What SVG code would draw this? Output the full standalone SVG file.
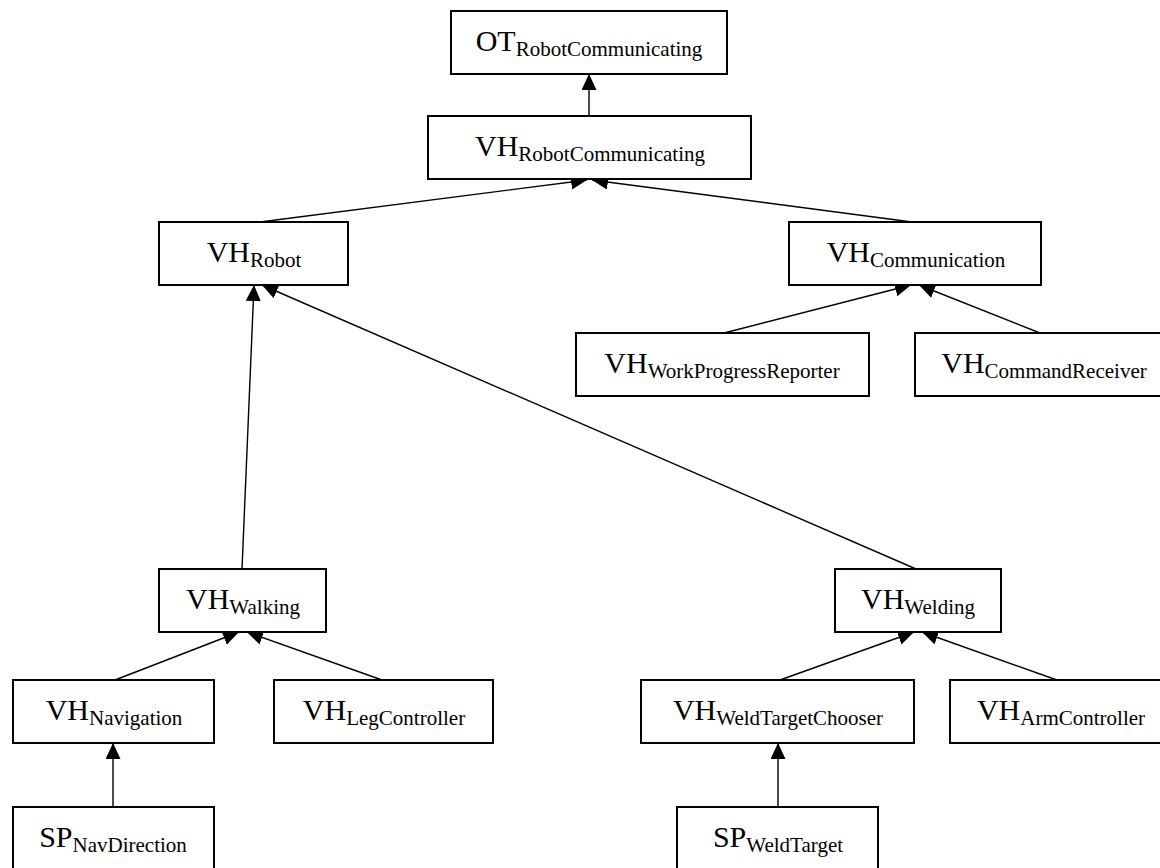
<svg xmlns="http://www.w3.org/2000/svg" width="1160" height="868" viewBox="0 0 1160 868">
<style>
.box{fill:#fff;stroke:#000;stroke-width:2}
.lbl{font-family:"Liberation Serif","Times New Roman",serif;font-size:30px;fill:#000;text-anchor:middle}
.sub{font-size:21px}
.edge{stroke:#000;stroke-width:1.4;fill:none;marker-end:url(#ah)}
</style>
<defs>
<marker id="ah" markerUnits="userSpaceOnUse" markerWidth="17" markerHeight="16" refX="16" refY="7.5" orient="auto">
<path d="M0,0 L16,7.5 L0,15 z" fill="#000"/>
</marker>
</defs>
<rect width="1160" height="868" fill="#fff"/>
<g id="connectors">
<line class="edge" x1="589" y1="116" x2="589" y2="74"/>
<line class="edge" x1="260" y1="222" x2="587" y2="180"/>
<line class="edge" x1="912" y1="222" x2="592" y2="180"/>
<line class="edge" x1="242" y1="569" x2="254" y2="285"/>
<line class="edge" x1="916" y1="569" x2="262" y2="285"/>
<line class="edge" x1="724" y1="333" x2="911" y2="285"/>
<line class="edge" x1="1040" y1="333" x2="919" y2="285"/>
<line class="edge" x1="115" y1="680" x2="239" y2="632"/>
<line class="edge" x1="382" y1="680" x2="247" y2="632"/>
<line class="edge" x1="113" y1="807" x2="113" y2="743"/>
<line class="edge" x1="780" y1="680" x2="914" y2="632"/>
<line class="edge" x1="1057" y1="680" x2="922" y2="632"/>
<line class="edge" x1="778" y1="807" x2="778" y2="743"/>
</g>
<g id="n_OT_RobotCommunicating">
<rect class="box" x="451" y="11" width="276" height="63"/>
<text class="lbl" x="589" y="51">OT<tspan class="sub" dy="5">RobotCommunicating</tspan></text>
</g>
<g id="n_VH_RobotCommunicating">
<rect class="box" x="428" y="116" width="323" height="63"/>
<text class="lbl" x="590" y="156">VH<tspan class="sub" dy="5">RobotCommunicating</tspan></text>
</g>
<g id="n_VH_Robot">
<rect class="box" x="159" y="222" width="189" height="63"/>
<text class="lbl" x="254" y="262">VH<tspan class="sub" dy="5">Robot</tspan></text>
</g>
<g id="n_VH_Communication">
<rect class="box" x="789" y="222" width="252" height="63"/>
<text class="lbl" x="916" y="262">VH<tspan class="sub" dy="5">Communication</tspan></text>
</g>
<g id="n_VH_WorkProgressReporter">
<rect class="box" x="576" y="333" width="293" height="63"/>
<text class="lbl" x="722" y="373">VH<tspan class="sub" dy="5">WorkProgressReporter</tspan></text>
</g>
<g id="n_VH_CommandReceiver">
<rect class="box" x="915" y="333" width="260" height="63"/>
<text class="lbl" x="1044" y="373">VH<tspan class="sub" dy="5">CommandReceiver</tspan></text>
</g>
<g id="n_VH_Walking">
<rect class="box" x="159" y="569" width="167" height="63"/>
<text class="lbl" x="243" y="609">VH<tspan class="sub" dy="5">Walking</tspan></text>
</g>
<g id="n_VH_Welding">
<rect class="box" x="835" y="569" width="166" height="63"/>
<text class="lbl" x="918" y="609">VH<tspan class="sub" dy="5">Welding</tspan></text>
</g>
<g id="n_VH_Navigation">
<rect class="box" x="13" y="680" width="201" height="63"/>
<text class="lbl" x="114" y="720">VH<tspan class="sub" dy="5">Navigation</tspan></text>
</g>
<g id="n_VH_LegController">
<rect class="box" x="274" y="680" width="219" height="63"/>
<text class="lbl" x="384" y="720">VH<tspan class="sub" dy="5">LegController</tspan></text>
</g>
<g id="n_VH_WeldTargetChooser">
<rect class="box" x="641" y="680" width="273" height="63"/>
<text class="lbl" x="778" y="720">VH<tspan class="sub" dy="5">WeldTargetChooser</tspan></text>
</g>
<g id="n_VH_ArmController">
<rect class="box" x="950" y="680" width="222" height="63"/>
<text class="lbl" x="1061" y="720">VH<tspan class="sub" dy="5">ArmController</tspan></text>
</g>
<g id="n_SP_NavDirection">
<rect class="box" x="13" y="807" width="201" height="63"/>
<text class="lbl" x="113" y="847">SP<tspan class="sub" dy="5">NavDirection</tspan></text>
</g>
<g id="n_SP_WeldTarget">
<rect class="box" x="677" y="807" width="201" height="63"/>
<text class="lbl" x="778" y="847">SP<tspan class="sub" dy="5">WeldTarget</tspan></text>
</g>
</svg>
